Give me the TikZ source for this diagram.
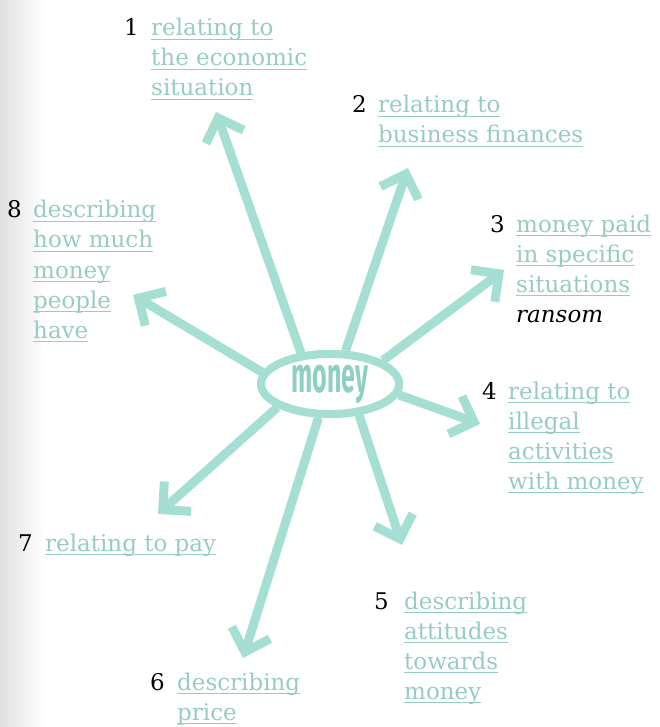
\documentclass[tikz,border=0pt]{standalone}
\usepackage{fontspec}
\setmainfont{DejaVu Serif}
\newfontfamily\moneyfont{Fira Sans}
\usetikzlibrary{arrows.meta,shapes.geometric}
\definecolor{arr}{RGB}{165,223,211}
\definecolor{lab}{RGB}{150,204,194}
\definecolor{mon}{RGB}{140,208,194}
\newcommand\uln[1]{\setbox0=\hbox{#1}\hbox{\rlap{\color{lab}\rule[-4pt]{\wd0}{1pt}}\box0}}
\newcommand\blk[1]{\vtop{\baselineskip=30pt\lineskiplimit=-30pt #1}}
\newcommand\moneyword{\moneyfont\bfseries\color{mon}\scalebox{0.5}[1]{\fontsize{50}{50}\selectfont money}}
\tikzset{
  lbl/.style={anchor=base west, inner sep=0pt, text=lab, font=\fontsize{23}{30}\selectfont},
  num/.style={anchor=base east, inner sep=0pt, text=black, font=\fontsize{23}{30}\selectfont},
  spoke/.style={draw=arr, line width=9pt,
    -{Straight Barb[length=20pt,width=40pt,line cap=butt,line join=miter]}},
  hub/.style={ellipse, draw=arr, fill=white, line width=8pt, minimum width=138pt,
    minimum height=60pt, inner sep=0pt}
}
\begin{document}
\begin{tikzpicture}[x=1pt,y=-1pt]
\useasboundingbox (0,0) rectangle (659,727);
\fill[left color=black!12, right color=white, draw=none] (0,0) rectangle (45,727);
% tips
\coordinate (t1) at (216,112);
\coordinate (t2) at (408,168);
\coordinate (t3) at (504,270);
\coordinate (t4) at (480,424);
\coordinate (t5) at (402,545);
\coordinate (t6) at (243,658);
\coordinate (t7) at (158,514);
\coordinate (t8) at (133,295);
% hub
\node[hub] (m) at (330,384) {\moneyword};
\draw[spoke] (m.133) -- (t1);
\draw[spoke] (m.65) -- (t2);
\draw[spoke] (m.24) -- (t3);
\draw[spoke] (m.-9) -- (t4);
\draw[spoke] (m.-47) -- (t5);
\draw[spoke] (m.-109) -- (t6);
\draw[spoke] (m.-156) -- (t7);
\draw[spoke] (m.170) -- (t8);
\node[hub] (m2) at (m) {\moneyword};
% labels
\node[num] (n1) at (139,36) {1};
\node[lbl] (b1) at (151,36) {\blk{\uln{relating to}\uln{the economic}\uln{situation}}};
\node[num] (n2) at (367,113) {2};
\node[lbl] (b2) at (378,113) {\blk{\uln{relating to}\uln{business finances}}};
\node[num] (n3) at (505,232) {3};
\node[lbl] (b3) at (516,232) {\blk{\uln{money paid}\uln{in specific}\uln{situations}\hbox{\color{black}\itshape ransom}}};
\node[num] (n4) at (497,399) {4};
\node[lbl] (b4) at (508,399) {\blk{\uln{relating to}\uln{illegal}\uln{activities}\uln{with money}}};
\node[num] (n5) at (389,609) {5};
\node[lbl] (b5) at (404,609) {\blk{\uln{describing}\uln{attitudes}\uln{towards}\uln{money}}};
\node[num] (n6) at (165,690) {6};
\node[lbl] (b6) at (177,690) {\blk{\uln{describing}\uln{price}}};
\node[num] (n7) at (33,551) {7};
\node[lbl] (b7) at (45,551) {\blk{\uln{relating to pay}}};
\node[num] (n8) at (22,218) {8};
\node[lbl] (b8) at (33,218) {\blk{\uln{describing}\uln{how much}\uln{money}\uln{people}\uln{have}}};
\end{tikzpicture}
\end{document}
